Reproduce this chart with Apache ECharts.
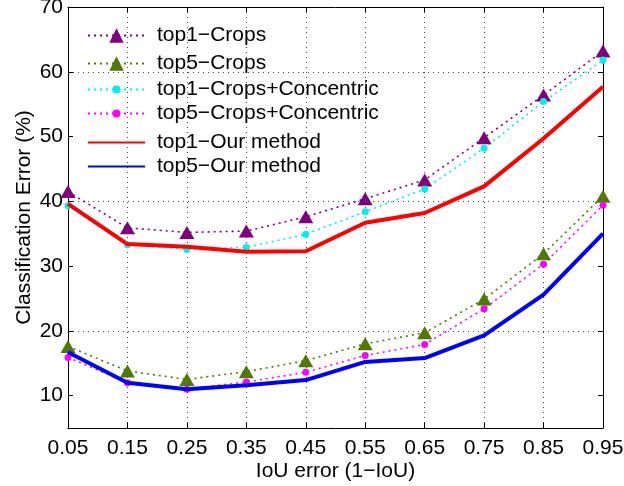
<!DOCTYPE html>
<html>
<head>
<meta charset="utf-8">
<script src="https://cdn.jsdelivr.net/npm/echarts@6/dist/echarts.min.js"></script>
<style>
  html, body { margin: 0; padding: 0; background: #fff; }
  #chart { width: 624px; height: 486px; }
</style>
</head>
<body>
<div id="chart"></div>
<script>
// IoU error bins on the horizontal axis
const iouError = ['0.05', '0.15', '0.25', '0.35', '0.45', '0.55', '0.65', '0.75', '0.85', '0.95'];

// Classification error (%) per method
const top1Crops = [41.5, 35.9, 35.2, 35.4, 37.6, 40.4, 43.3, 49.8, 56.4, 63.2];
const top5Crops = [17.6, 13.8, 12.5, 13.7, 15.4, 18.0, 19.7, 24.9, 31.9, 40.8];
const top1Concentric = [39.3, 33.3, 32.6, 32.9, 34.9, 38.4, 41.9, 48.2, 55.4, 61.8];
const top5Concentric = [15.9, 12.0, 11.0, 12.1, 13.6, 16.2, 17.9, 23.4, 30.3, 39.4];
const top1Ours = [39.6, 33.4, 33.0, 32.2, 32.3, 36.7, 38.2, 42.3, 49.7, 57.7];
const top5Ours = [16.7, 12.0, 11.0, 11.6, 12.4, 15.2, 15.8, 19.3, 25.6, 35.0];

// Y tick labels
const yTicks = [10, 20, 30, 40, 50, 60, 70];

const FONT = '"Liberation Sans", Arial, Helvetica, sans-serif';
const chart = echarts.init(document.getElementById('chart'), null, { renderer: 'canvas' });

const dotted = { type: [2, 4], width: 1.6 };

function crops(name, data, color, symbol, size) {
  return {
    name, type: 'line', data,
    xAxisIndex: 0, yAxisIndex: 0,
    symbol, symbolSize: size, showSymbol: true,
    itemStyle: { color },
    lineStyle: Object.assign({ color }, dotted),
    z: 3
  };
}
function ours(name, data, color) {
  return {
    name, type: 'line', data,
    xAxisIndex: 0, yAxisIndex: 0,
    symbol: 'none',
    itemStyle: { color },
    lineStyle: { color, width: 4, type: 'solid' },
    z: 4
  };
}

// grid lines only at the labelled (multiple of 10) ticks
const gridLine = { show: true, lineStyle: { color: ['rgba(0,0,0,0)', '#444'], type: [1, 4], width: 1 } };

// legend blocks share everything except the marker size and row spacing
function legendBlock(top, itemHeight, itemGap, data) {
  return {
    orient: 'vertical', left: 82, top,
    itemWidth: 57, itemHeight, itemGap,
    textStyle: { fontFamily: FONT, fontSize: 21, color: '#000', padding: [0, 0, 0, 7] },
    data
  };
}

chart.setOption({
  animation: false,
  backgroundColor: '#fff',
  textStyle: { fontFamily: FONT },
  grid: { left: 68, right: 21, top: 7, bottom: 58, containLabel: false, outerBoundsMode: 'none' },
  legend: [
    legendBlock(20, 18, 7, ['top1−Crops', 'top5−Crops']),
    legendBlock(74, 10, 3, ['top1−Crops+Concentric', 'top5−Crops+Concentric']),
    legendBlock(127, 10, 3, [
      { name: 'top1−Our method', itemStyle: { opacity: 0 } },
      { name: 'top5−Our method', itemStyle: { opacity: 0 } }
    ])
  ],
  xAxis: [{
    type: 'category', data: iouError, boundaryGap: false, position: 'bottom',
    name: 'IoU error (1−IoU)', nameLocation: 'middle', nameGap: 33, nameMoveOverlap: false,
    nameTextStyle: { fontFamily: FONT, fontSize: 21, color: '#000' },
    axisLine: { lineStyle: { color: '#000', width: 1 } },
    axisTick: { inside: true, length: 5, alignWithLabel: true, lineStyle: { color: '#000' } },
    axisLabel: { fontFamily: FONT, fontSize: 21, color: '#000', margin: 10 },
    splitLine: { show: true, lineStyle: { color: '#444', type: [1, 4], width: 1 } }
  }, {
    type: 'category', data: iouError, boundaryGap: false, position: 'top',
    axisLine: { lineStyle: { color: '#000', width: 1 } },
    axisTick: { inside: true, length: 5, alignWithLabel: true, lineStyle: { color: '#000' } },
    axisLabel: { show: false },
    splitLine: { show: false }
  }],
  yAxis: [{
    type: 'value', min: 5, max: 70, interval: 5, position: 'left',
    name: 'Classification Error (%)', nameLocation: 'middle', nameGap: 33, nameRotate: 90,
    nameMoveOverlap: false,
    nameTextStyle: { fontFamily: FONT, fontSize: 21, color: '#000' },
    axisLine: { show: true, lineStyle: { color: '#000', width: 1 } },
    axisTick: { show: true, inside: true, length: 5, customValues: yTicks, lineStyle: { color: '#000' } },
    axisLabel: { fontFamily: FONT, fontSize: 21, color: '#000', margin: 5, customValues: yTicks,
      formatter: v => (v % 10 === 0 ? String(v) : '') },
    splitLine: gridLine
  }, {
    type: 'value', min: 5, max: 70, interval: 5, position: 'right',
    axisLine: { show: true, lineStyle: { color: '#000', width: 1 } },
    axisTick: { show: true, inside: true, length: 5, customValues: yTicks, lineStyle: { color: '#000' } },
    axisLabel: { show: false },
    splitLine: { show: false }
  }],
  series: [
    crops('top1−Crops', top1Crops, '#800080', 'triangle', [15, 13]),
    crops('top5−Crops', top5Crops, '#4d7a00', 'triangle', [15, 13]),
    crops('top1−Crops+Concentric', top1Concentric, '#00f0f0', 'circle', 7),
    crops('top5−Crops+Concentric', top5Concentric, '#ff00ff', 'circle', 7),
    ours('top1−Our method', top1Ours, '#ff0000'),
    ours('top5−Our method', top5Ours, '#0000ff')
  ]
});
</script>
</body>
</html>
